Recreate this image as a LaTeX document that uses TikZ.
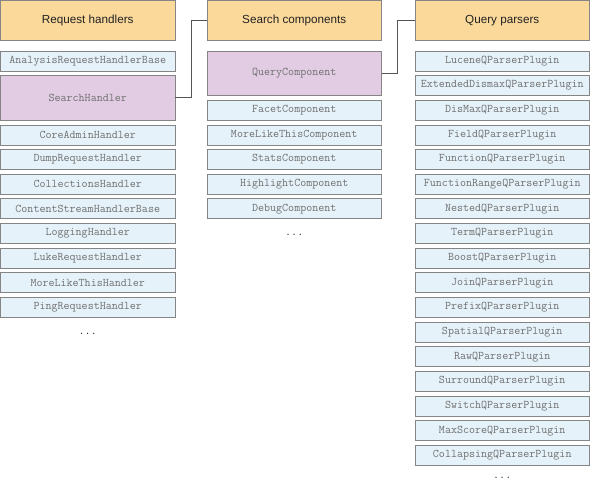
\documentclass[tikz,border=0pt]{standalone}
\usepackage{fontspec}
\setmainfont{Liberation Sans}
\definecolor{hdrfill}{HTML}{FBD99B}
\definecolor{itemfill}{HTML}{E5F2FA}
\definecolor{purfill}{HTML}{E2CCE4}
\definecolor{bordc}{HTML}{858585}
\definecolor{itemtext}{HTML}{707070}
\definecolor{hdrtext}{HTML}{222222}
\definecolor{linec}{HTML}{555555}
\tikzset{
  box/.style={draw=bordc, line width=0.9pt, anchor=north west, minimum width=174.5pt, inner sep=0pt, outer sep=0pt},
  hdr/.style={box, fill=hdrfill, minimum height=40pt, font=\fontsize{11.7}{13}\selectfont, text=hdrtext},
  item/.style={box, fill=itemfill, minimum height=20pt, font=\ttfamily\fontsize{11.7}{13}\selectfont, text=itemtext},
  pitem/.style={item, fill=purfill, minimum height=44.3pt},
  dots/.style={anchor=base, font=\ttfamily\fontsize{11.7}{13}\selectfont, text=hdrtext},
  conn/.style={draw=linec, line width=0.8pt}
}
\begin{document}
\begin{tikzpicture}[x=1pt,y=-1pt]
\useasboundingbox (0,0) rectangle (590,479);
% headers
\node[hdr] (hl) at (0.5,0.5) {Request handlers};
\node[hdr] (hm) at (207,0.5) {Search components};
\node[hdr] (hr) at (415,0.5) {Query parsers};
% left column
\node[item] (l0) at (0.5,51) {AnalysisRequestHandlerBase};
\node[pitem] (sh) at (0.5,75.65) {SearchHandler};
\foreach \t [count=\i from 3] in {CoreAdminHandler,DumpRequestHandler,CollectionsHandler,ContentStreamHandlerBase,LoggingHandler,LukeRequestHandler,MoreLikeThisHandler,PingRequestHandler}
  \node[item] (l\i) at (0.5,51+24.65*\i) {\t};
\node[dots] (ld) at (87.75,334) {...};
% middle column
\node[pitem] (qc) at (207,51) {QueryComponent};
\foreach \t [count=\i from 2] in {FacetComponent,MoreLikeThisComponent,StatsComponent,HighlightComponent,DebugComponent}
  \node[item] (m\i) at (207,51+24.65*\i) {\t};
\node[dots] (md) at (294.25,235) {...};
% right column
\foreach \t [count=\i from 0] in {LuceneQParserPlugin,ExtendedDismaxQParserPlugin,DisMaxQParserPlugin,FieldQParserPlugin,FunctionQParserPlugin,FunctionRangeQParserPlugin,NestedQParserPlugin,TermQParserPlugin,BoostQParserPlugin,JoinQParserPlugin,PrefixQParserPlugin,SpatialQParserPlugin,RawQParserPlugin,SurroundQParserPlugin,SwitchQParserPlugin,MaxScoreQParserPlugin,CollapsingQParserPlugin}
  \node[item] (r\i) at (415,51+24.65*\i) {\t};
\node[dots] (rd) at (502.25,478.5) {...};
% connectors
\draw[conn] (sh.east) -- ([xshift=16pt]sh.east) |- (hm.west);
\draw[conn] (qc.east) -- ([xshift=16pt]qc.east) |- (hr.west);
\end{tikzpicture}
\end{document}
